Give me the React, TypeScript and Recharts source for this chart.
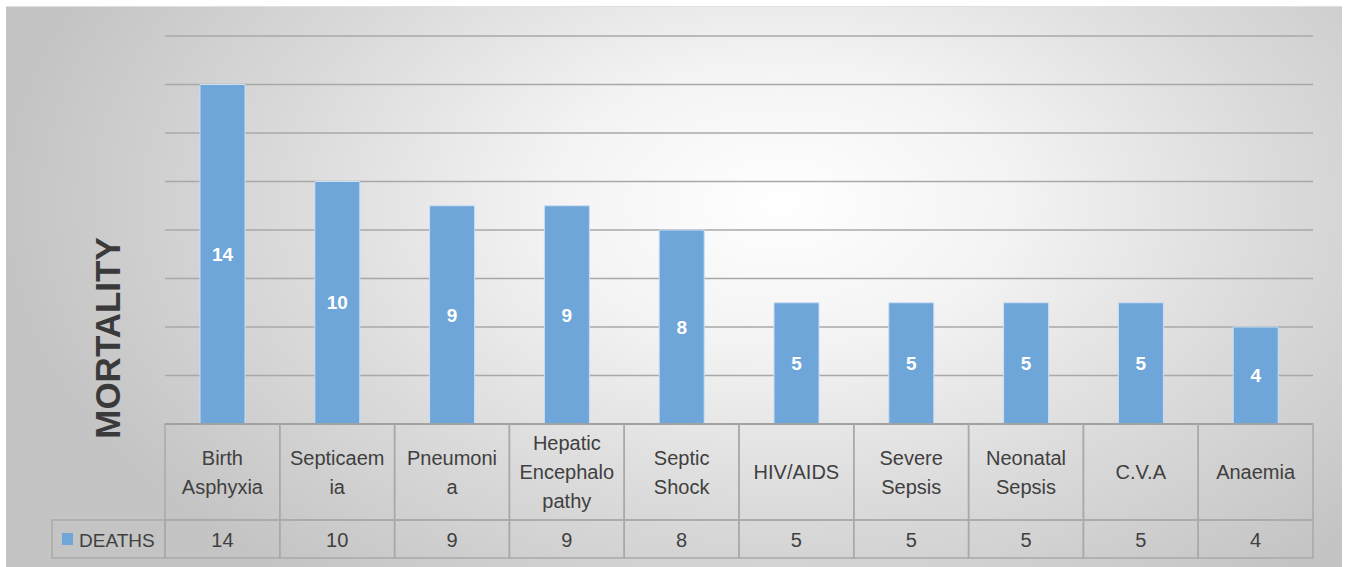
import React from "react";
import { BarChart, Bar, XAxis, YAxis, CartesianGrid, LabelList } from "recharts";

const categories = [
  "Birth Asphyxia",
  "Septicaemia",
  "Pneumonia",
  "Hepatic Encephalopathy",
  "Septic Shock",
  "HIV/AIDS",
  "Severe Sepsis",
  "Neonatal Sepsis",
  "C.V.A",
  "Anaemia",
];
const categoryLines = [
  ["Birth", "Asphyxia"],
  ["Septicaem", "ia"],
  ["Pneumoni", "a"],
  ["Hepatic", "Encephalo", "pathy"],
  ["Septic", "Shock"],
  ["HIV/AIDS"],
  ["Severe", "Sepsis"],
  ["Neonatal", "Sepsis"],
  ["C.V.A"],
  ["Anaemia"],
];
const deaths = [14, 10, 9, 9, 8, 5, 5, 5, 5, 4];
const yTicks = [0, 2, 4, 6, 8, 10, 12, 14, 16];
const seriesName = "DEATHS";
const axisTitle = "MORTALITY";

const data = categories.map((c, i) => ({ name: c, deaths: deaths[i] }));

const W = 1347;
const H = 567;
const M = { top: 36, right: 34, bottom: 9, left: 165 };
const CELL_W = (W - M.left - M.right) / categories.length;
const HEAD_H = 96;
const VAL_H = 38;
const LEG_W = 113;
const BORDER = "#a9a9a9";
const TEXT = "#404040";
const BLUE = "#6fa6d9";
const FONT = "'Liberation Sans', Arial, sans-serif";

const TableTick = (props: any) => {
  const { x, y, payload, index } = props;
  const i = typeof index === "number" ? index : categories.indexOf(payload.value);
  const lines = categoryLines[i] || [payload.value];
  const lh = 29;
  const cy = y + HEAD_H / 2;
  const startY = cy - ((lines.length - 1) * lh) / 2;
  const left = x - CELL_W / 2;
  return (
    <g>
      <rect x={left} y={y} width={CELL_W} height={HEAD_H} fill="none" stroke={BORDER} strokeWidth={1.5} />
      <rect x={left} y={y + HEAD_H} width={CELL_W} height={VAL_H} fill="none" stroke={BORDER} strokeWidth={1.5} />
      {lines.map((l: string, k: number) => (
        <text
          key={k}
          x={x}
          y={startY + k * lh}
          textAnchor="middle"
          dominantBaseline="central"
          fontSize={20}
          fontFamily={FONT}
          fill={TEXT}
        >
          {l}
        </text>
      ))}
      <text
        x={x}
        y={y + HEAD_H + VAL_H / 2 + 1}
        textAnchor="middle"
        dominantBaseline="central"
        fontSize={20}
        fontFamily={FONT}
        fill={TEXT}
      >
        {deaths[i]}
      </text>
      {i === 0 && (
        <g>
          <rect x={left - LEG_W} y={y + HEAD_H} width={LEG_W} height={VAL_H} fill="none" stroke={BORDER} strokeWidth={1.5} />
          <rect x={left - LEG_W + 10} y={y + HEAD_H + 13} width={11} height={12} fill={BLUE} />
          <text
            x={left - LEG_W + 27}
            y={y + HEAD_H + VAL_H / 2 + 1}
            dominantBaseline="central"
            fontSize={19}
            fontFamily={FONT}
            fill={TEXT}
          >
            {seriesName}
          </text>
        </g>
      )}
    </g>
  );
};

export default function App() {
  return (
    <div style={{ position: "absolute", left: 0, top: 0, width: W, height: H }}>
      <div
        style={{
          position: "absolute",
          left: 6,
          top: 6,
          width: 1336,
          height: 561,
          background:
            "radial-gradient(ellipse 58% 85% at 58% 35%, #ffffff 0%, #f3f3f3 30%, #dadada 65%, #c4c4c4 100%)",
          borderTop: "1px solid #e0e0e0",
        }}
      />
      <div style={{ position: "absolute", left: 0, top: 0 }}>
        <BarChart width={W} height={H} data={data} margin={M} barCategoryGap={0}>
          <CartesianGrid horizontal vertical={false} stroke="#a8a8a8" strokeWidth={1.3} />
          <YAxis
            hide
            domain={[0, 16]}
            ticks={yTicks}
            type="number"
          />
          <XAxis
            dataKey="name"
            interval={0}
            tickLine={false}
            tickSize={0}
            tickMargin={0}
            height={134}
            axisLine={{ stroke: "#7a7a7a", strokeWidth: 1.5 }}
            tick={<TableTick />}
          />
          <Bar
            dataKey="deaths"
            fill={BLUE}
            stroke="#c9dff2"
            strokeWidth={1}
            barSize={45}
            isAnimationActive={false}
          >
            <LabelList
              dataKey="deaths"
              position="center"
              fill="#ffffff"
              fontSize={19}
              fontWeight="bold"
              fontFamily={FONT}
            />
          </Bar>
        </BarChart>
      </div>
      <div
        style={{
          position: "absolute",
          left: 107,
          top: 338,
          transform: "translate(-50%, -50%) rotate(-90deg)",
          fontFamily: FONT,
          fontWeight: "bold",
          fontSize: 35,
          color: "#3a3a3a",
          whiteSpace: "nowrap",
          lineHeight: 1,
        }}
      >
        {axisTitle}
      </div>
    </div>
  );
}
